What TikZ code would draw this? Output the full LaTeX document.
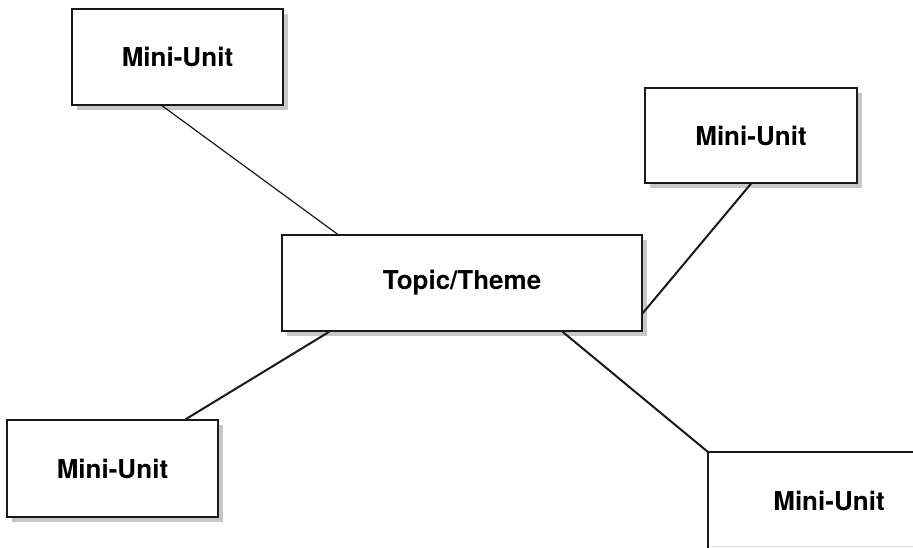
\documentclass[tikz,border=0pt]{standalone}
\usepackage{fontspec}
\setmainfont{TeX Gyre Heros}
\usetikzlibrary{calc,shadows}
\begin{document}
\begin{tikzpicture}[x=1pt,y=-1pt,
  unitbox/.style={draw=black!90, line width=1.4pt, fill=white, inner sep=0pt,
    drop shadow={shadow xshift=5pt, shadow yshift=-5pt, fill=black!22, opacity=1},
    font=\fontsize{26}{30}\selectfont\bfseries},
  link/.style={draw=black!90, line width=2pt},
  thinlink/.style={draw=black!90, line width=1.2pt}]
\useasboundingbox (0,0) rectangle (913,548);
\fill[white] (0,0) rectangle (913,548);
% links (drawn first, boxes on top)
\coordinate (brc) at (708,452);
\node[unitbox, minimum width=211pt, minimum height=96pt] (tl) at (177.5,57) {Mini-Unit};
\node[unitbox, minimum width=212pt, minimum height=95pt] (tr) at (751,135.5) {Mini-Unit};
\node[unitbox, minimum width=360pt, minimum height=96pt] (c) at (462,283) {Topic/Theme};
\node[unitbox, minimum width=211pt, minimum height=97pt] (bl) at (112.5,468.5) {Mini-Unit};
% bottom-right clipped box
\draw[draw=black!12, line width=1pt] (709,546) -- (913,546);
\draw[draw=black!90, line width=1.6pt] (913,452) -- (brc) -- (708,548);
\node[font=\fontsize{26}{30}\selectfont\bfseries, inner sep=0pt] (br) at (829,501) {Mini-Unit};
% connectors
\draw[thinlink] ($(tl.south west)!0.427!(tl.south east)$) -- ($(c.north west)!0.156!(c.north east)$);
\draw[link] (tr.south) -- ($(c.north east)!0.81!(c.south east)$);
\draw[link] ($(c.south west)!0.133!(c.south east)$) -- ($(bl.north west)!0.844!(bl.north east)$);
\draw[link] ($(c.south west)!0.778!(c.south east)$) -- (brc);
\end{tikzpicture}
\end{document}
